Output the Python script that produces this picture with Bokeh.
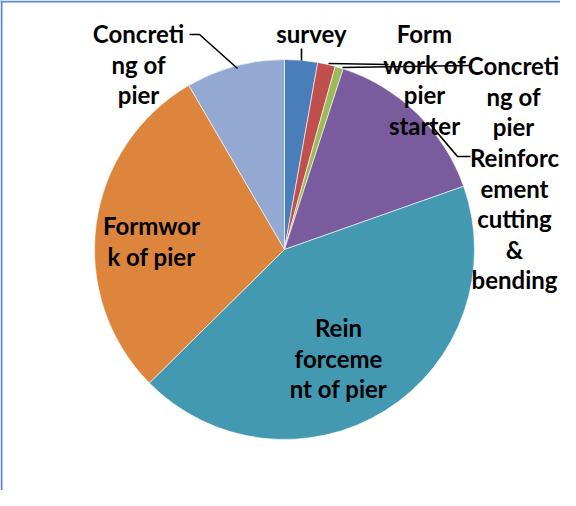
import math
from bokeh.plotting import figure
from bokeh.models import Range1d, ColumnDataSource
from bokeh.core.properties import value
from bokeh.embed import file_html
from bokeh.resources import INLINE

# ---- data ----
categories = ["survey", "Form work of pier starter", "Concreting of pier",
              "Reinforcement cutting & bending", "Reinforcement of pier",
              "Formwork of pier", "Concreting of pier"]
shares = [2.8, 1.5, 0.7, 14.6, 43.0, 29.0, 8.4]
label_texts = ["survey", "Form\nwork of\npier\nstarter", "Concreti\nng of\npier",
               "Reinforc\nement\ncutting\n&\nbending", "Rein\nforceme\nnt of pier",
               "Formwor\nk of pier", "Concreti\nng of\npier"]
colors = ["#4A7EBB", "#C0504D", "#9BBB59", "#7A5C9E", "#4399B2", "#DE853D", "#93A9D2"]

# ---- layout (reference pixel space) ----
W, H = 560, 490
def px(X, Y):
    return X - 8, 498 - Y

cx, cy = px(292, 257)
R = 190
LINE_STEP = 30.5
TEXT_SHIFT = 5
# first-line centre of each label
label_pos = [(319, 36), (432, 36), (521, 68), (522, 160), (346, 330), (159, 228), (146, 36)]
leaders = [
    [(309, 56), (309, 68)],
    [(336, 71), (396, 72)],
    [(350, 75), (478, 73)],
    [(437, 131), (465, 164), (478, 164)],
    None,
    None,
    [(197, 42), (207, 42), (245, 76)],
]

p = figure(width=W, height=H, output_backend="svg", toolbar_location=None,
           x_range=Range1d(0, W), y_range=Range1d(0, H),
           x_axis_location=None, y_axis_location=None, min_border=0)
p.grid.visible = False
p.outline_line_color = None
p.background_fill_color = "white"

total = sum(shares)
starts, ends = [], []
cum = 0.0
for s in shares:
    starts.append(math.pi / 2 - cum / total * 2 * math.pi)
    cum += s
    ends.append(math.pi / 2 - cum / total * 2 * math.pi)

src = ColumnDataSource(dict(start=starts, end=ends, color=colors, cat=categories))
p.wedge(x=cx, y=cy, radius=R, start_angle="start", end_angle="end",
        direction="clock", fill_color="color", line_color="white", line_width=0.6,
        source=src)

# leader lines
for ld in leaders:
    if ld:
        xs, ys = zip(*[px(a, b) for a, b in ld])
        p.line(list(xs), list(ys), line_color="black", line_width=1.6)

# labels, one text per line
tx, ty, tt = [], [], []
for (X, Y), txt in zip(label_pos, label_texts):
    for k, line in enumerate(txt.split("\n")):
        x, y = px(X, Y + TEXT_SHIFT + k * LINE_STEP)
        tx.append(x); ty.append(y); tt.append(line)
p.text(x=tx, y=ty, text=tt, text_align="center", text_baseline="middle",
       text_font=value("Lato"), text_font_style="bold", text_font_size="24px",
       text_color="black")

# frame lines (left, top)
p.line([1, 1], [0, H], line_color="#5B8BD0", line_width=2)
p.line([0, W], [H - 1, H - 1], line_color="#5B8BD0", line_width=2)

open("out.html", "w").write(file_html(p, INLINE))
